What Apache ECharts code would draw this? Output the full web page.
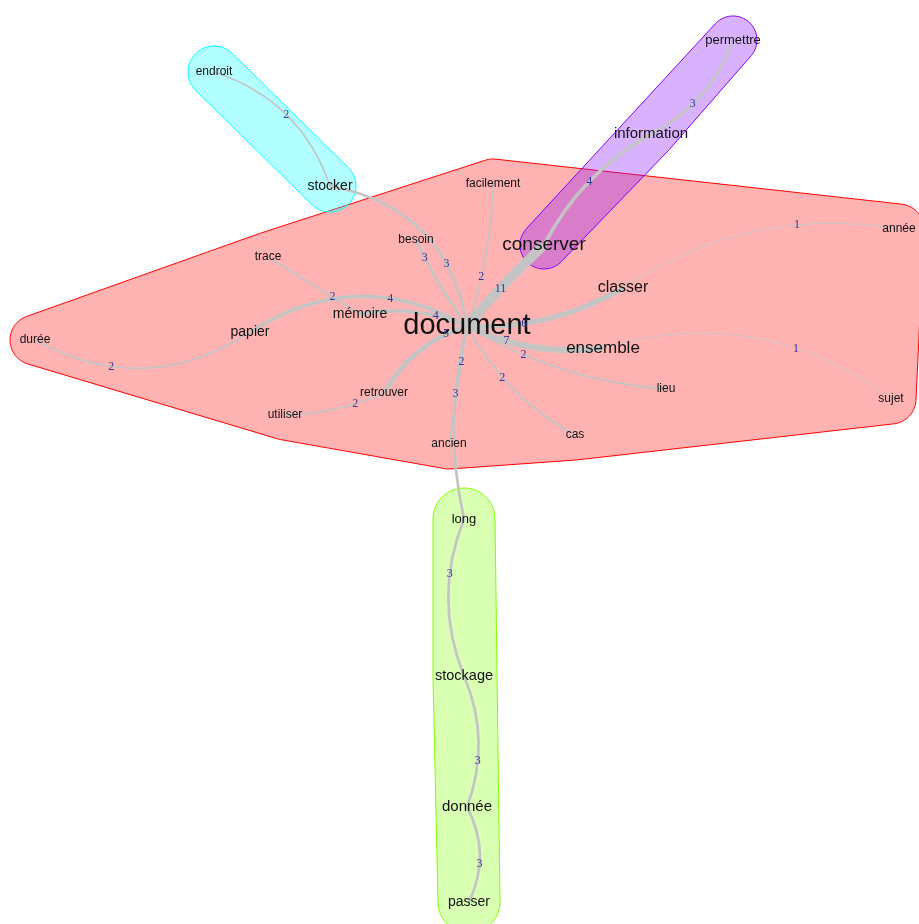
<!DOCTYPE html>
<html>
<head>
<meta charset="utf-8">
<script src="https://cdn.jsdelivr.net/npm/echarts@6/dist/echarts.min.js"></script>
<style>
  html, body { margin: 0; padding: 0; background: #fff; }
  #chart { width: 919px; height: 924px; }
</style>
</head>
<body>
<div id="chart"></div>
<script>
// mots (sommets) et leur position dans le graphe
const words = ["document", "conserver", "classer", "ensemble", "mémoire", "papier", "information",
  "stocker", "stockage", "donnée", "long", "passer", "permettre", "endroit", "facilement", "besoin",
  "trace", "année", "durée", "retrouver", "utiliser", "ancien", "lieu", "cas", "sujet"];
const wordX = [467, 544, 623, 603, 360, 250, 651, 330, 464, 467, 464, 469, 733, 214, 493, 416,
  268, 899, 35, 384, 285, 449, 666, 575, 891];
const wordY = [326, 245, 288, 348, 314, 332, 134, 186, 676, 807, 519, 902, 40, 72, 184, 240,
  257, 229, 340, 393, 415, 444, 389, 435, 399];
// communauté : 0 rouge, 1 vert, 2 cyan, 3 violet
const wordGroup = [0, 3, 0, 0, 0, 0, 3, 2, 1, 1, 1, 1, 3, 2, 0, 0, 0, 0, 0, 0, 0, 0, 0, 0, 0];

// arêtes (cooccurrences)
const edgeFrom = ["document", "conserver", "information", "document", "document", "document",
  "document", "mémoire", "papier", "document", "retrouver", "document", "document", "document",
  "document", "classer", "ensemble", "document", "document", "stocker", "document", "long",
  "stockage", "donnée"];
const edgeTo = ["conserver", "information", "permettre", "classer", "ensemble", "mémoire",
  "papier", "trace", "durée", "retrouver", "utiliser", "ancien", "long", "cas", "lieu", "année",
  "sujet", "besoin", "stocker", "endroit", "facilement", "stockage", "donnée", "passer"];
const edgeWeight = [11, 4, 3, 6, 7, 4, 4, 2, 2, 5, 2, 2, 3, 2, 2, 1, 1, 3, 3, 2, 2, 3, 3, 3];

// style
const bend = [0.03, 0.15, -0.2, -0.15, -0.15, -0.15, -0.3, 0, 0.3, -0.2, 0.1, 0, -0.12, -0.15,
  -0.12, 0.2, 0.25, 0.05, -0.35, -0.25, -0.08, -0.2, 0.2, 0.25];
const labelAt = [0.45, 0.5, 0.4, 0.35, 0.3, 0.3, 0.35, 0.3, 0.65, 0.2, 0.3, 0.3, 0.35, 0.4,
  0.3, 0.65, 0.65, 0.8, 0.3, 0.5, 0.35, 0.35, 0.65, 0.6];
const labelSize = {
  document: 29, conserver: 19, ensemble: 17, classer: 16, information: 15, "donnée": 15,
  stockage: 14.5, stocker: 14, papier: 14, "mémoire": 14, passer: 14, long: 13, permettre: 13
};
const groupFill = ["rgba(255,0,0,0.3)", "rgba(128,255,0,0.3)", "rgba(0,255,255,0.3)", "rgba(128,0,255,0.3)"];
const groupStroke = ["#ff0000", "#80ff00", "#00ffff", "#8000ff"];
const groupPad = [25, 31, 26, 24];

function convexHull(pts) {
  const p = pts.slice().sort((a, b) => a[0] - b[0] || a[1] - b[1]);
  if (p.length < 3) return p;
  const cross = (o, a, b) => (a[0] - o[0]) * (b[1] - o[1]) - (a[1] - o[1]) * (b[0] - o[0]);
  const lower = [];
  for (const q of p) {
    while (lower.length >= 2 && cross(lower[lower.length - 2], lower[lower.length - 1], q) <= 0) lower.pop();
    lower.push(q);
  }
  const upper = [];
  for (const q of p.slice().reverse()) {
    while (upper.length >= 2 && cross(upper[upper.length - 2], upper[upper.length - 1], q) <= 0) upper.pop();
    upper.push(q);
  }
  upper.pop();
  lower.pop();
  return lower.concat(upper);
}

// enveloppe convexe élargie, coins arrondis
function roundedHull(pts, r) {
  const h = convexHull(pts);
  const out = [];
  const n = h.length;
  for (let i = 0; i < n; i++) {
    const prev = h[(i - 1 + n) % n], cur = h[i], next = h[(i + 1) % n];
    const d1 = [cur[0] - prev[0], cur[1] - prev[1]];
    const d2 = [next[0] - cur[0], next[1] - cur[1]];
    const a1 = Math.atan2(-d1[0], d1[1]);
    let a2 = Math.atan2(-d2[0], d2[1]);
    while (a2 < a1) a2 += Math.PI * 2;
    const steps = Math.max(2, Math.ceil((a2 - a1) / 0.08));
    for (let k = 0; k <= steps; k++) {
      const a = a1 + (a2 - a1) * k / steps;
      out.push([cur[0] + r * Math.cos(a), cur[1] + r * Math.sin(a)]);
    }
  }
  return out;
}

const hullSeries = [0, 1, 2, 3].map((g) => ({
  type: 'custom',
  coordinateSystem: 'cartesian2d',
  z: 1,
  silent: true,
  data: [[0, 0]],
  renderItem: (params, api) => {
    const pts = [];
    words.forEach((w, i) => {
      if (wordGroup[i] === g) pts.push(api.coord([wordX[i], wordY[i]]));
    });
    return {
      type: 'polygon',
      shape: { points: roundedHull(pts, groupPad[g]) },
      style: { fill: groupFill[g], stroke: groupStroke[g], lineWidth: 1 }
    };
  }
}));

// poids des arêtes, posés sur la courbe de chaque arête
const weightSeries = {
  type: 'custom',
  coordinateSystem: 'cartesian2d',
  z: 3,
  silent: true,
  data: edgeWeight.map((w, i) => [i, w]),
  renderItem: (params, api) => {
    const i = params.dataIndex;
    const s = words.indexOf(edgeFrom[i]);
    const t = words.indexOf(edgeTo[i]);
    const a = api.coord([wordX[s], wordY[s]]);
    const b = api.coord([wordX[t], wordY[t]]);
    const c = bend[i];
    const cp = [(a[0] + b[0]) / 2 - (a[1] - b[1]) * c, (a[1] + b[1]) / 2 - (b[0] - a[0]) * c];
    const u = labelAt[i];
    const x = (1 - u) * (1 - u) * a[0] + 2 * u * (1 - u) * cp[0] + u * u * b[0];
    const y = (1 - u) * (1 - u) * a[1] + 2 * u * (1 - u) * cp[1] + u * u * b[1];
    return {
      type: 'text',
      x: x,
      y: y,
      style: {
        text: String(api.value(1)),
        fill: '#35359a',
        fontSize: 12,
        fontFamily: 'Liberation Serif, serif',
        align: 'center',
        verticalAlign: 'middle'
      }
    };
  }
};

const nodes = words.map((w, i) => ({
  name: w,
  value: [wordX[i], wordY[i]],
  label: { fontSize: labelSize[w] || 12 }
}));

const links = edgeFrom.map((s, i) => ({
  source: s,
  target: edgeTo[i],
  value: edgeWeight[i],
  lineStyle: { width: Math.max(1, edgeWeight[i] * 0.9), curveness: bend[i] }
}));

const options = {
  animation: false,
  grid: { left: 0, right: 0, top: 0, bottom: 0 },
  xAxis: { type: 'value', min: 0, max: 919, show: false },
  yAxis: { type: 'value', min: 0, max: 924, inverse: true, show: false },
  series: [
    ...hullSeries,
    {
      type: 'graph',
      coordinateSystem: 'cartesian2d',
      layout: 'none',
      z: 2,
      symbol: 'circle',
      symbolSize: 1,
      itemStyle: { color: 'rgba(0,0,0,0)' },
      label: {
        show: true,
        position: 'inside',
        color: '#111',
        fontFamily: 'Liberation Sans, Arial, sans-serif',
        formatter: '{b}'
      },
      lineStyle: { color: '#c4c4c4', opacity: 1 },
      data: nodes,
      links: links
    },
    weightSeries
  ]
};

const myChart = echarts.init(document.getElementById('chart'));
myChart.setOption(options);
</script>
</body>
</html>
